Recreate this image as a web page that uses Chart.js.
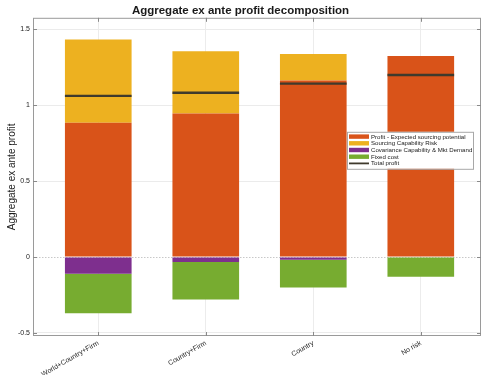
<!DOCTYPE html>
<html><head><meta charset="utf-8">
<script src="https://cdn.jsdelivr.net/npm/chart.js@4/dist/chart.umd.min.js"></script>
<style>html,body{margin:0;padding:0;background:#fff;}#wrap{width:482px;height:375px;position:relative}</style>
</head><body><div id="wrap"><canvas id="c" width="482" height="375"></canvas></div>
<script>
const categories = ['World+Country+Firm', 'Country+Firm', 'Country', 'No risk'];
const categoryX = [1, 2, 3, 4];
const profitPotential = [0.886, 0.947, 1.163, 1.325];
const capabilityRisk = [0.548, 0.410, 0.175, 0];
const covariance = [-0.110, -0.033, -0.017, 0];
const fixedCost = [-0.260, -0.247, -0.183, -0.130];
const totalProfit = [1.062, 1.083, 1.143, 1.200];
const yTicks = [-0.5, 0, 0.5, 1, 1.5];
const seriesNames = ['Profit - Expected sourcing potential', 'Sourcing Capability Risk', 'Covariance Capability & Mkt Demand', 'Fixed cost', 'Total profit'];

const FONT = '"Liberation Sans", Arial, Helvetica, sans-serif';
const LINE_HALF = 0.0075; // half thickness of the total-profit marker, in axis units (style)
const pts = arr => arr.map((v, i) => ({x: categoryX[i], y: v}));

const barDs = (label, data, color) => ({
  type: 'bar', label, data: pts(data), backgroundColor: color,
  borderWidth: 0, barPercentage: 0.62, categoryPercentage: 1, stack: 'bars'
});

const frame = {
  id: 'frame',
  afterDraw(chart) {
    const {ctx, chartArea: a} = chart;
    const xs = chart.scales.x, ys = chart.scales.y;
    ctx.save();
    ctx.strokeStyle = '#9a9a9a';
    ctx.lineWidth = 1;
    ctx.strokeRect(a.left + 0.5, a.top + 0.5, a.right - a.left - 1, a.bottom - a.top - 1);
    ctx.strokeStyle = '#8a8a8a';
    ctx.beginPath();
    categoryX.forEach(v => {
      const x = Math.round(xs.getPixelForValue(v)) + 0.5;
      ctx.moveTo(x, a.bottom); ctx.lineTo(x, a.bottom - 4);
      ctx.moveTo(x, a.top); ctx.lineTo(x, a.top + 4);
    });
    yTicks.forEach(v => {
      const y = Math.round(ys.getPixelForValue(v)) + 0.5;
      ctx.moveTo(a.left, y); ctx.lineTo(a.left + 4, y);
      ctx.moveTo(a.right, y); ctx.lineTo(a.right - 4, y);
    });
    ctx.stroke();
    ctx.restore();
  }
};

const legendBox = {
  id: 'legendBox',
  afterDatasetsDraw(chart) {
    const {ctx, chartArea: a} = chart;
    const x0 = a.right - 134, y0 = a.top + 114, w = 126, h = 37;
    ctx.save();
    ctx.fillStyle = '#ffffff';
    ctx.fillRect(x0, y0, w, h);
    ctx.strokeStyle = '#a8a8a8';
    ctx.lineWidth = 1;
    ctx.strokeRect(x0 + 0.5, y0 + 0.5, w, h);
    ctx.font = '6.1px ' + FONT;
    ctx.textBaseline = 'middle';
    const items = chart.data.datasets.slice().sort((p, q) => p.legendIndex - q.legendIndex);
    items.forEach((ds, i) => {
      const y = y0 + 4.8 + i * 6.7;
      if (ds.legendIndex < 4) {
        ctx.fillStyle = ds.backgroundColor;
        ctx.fillRect(x0 + 2, y - 2.2, 20, 4.4);
      } else {
        ctx.strokeStyle = ds.backgroundColor;
        ctx.lineWidth = 1.8;
        ctx.beginPath(); ctx.moveTo(x0 + 2, y); ctx.lineTo(x0 + 22, y); ctx.stroke();
      }
      ctx.fillStyle = '#1a1a1a';
      ctx.fillText(ds.label, x0 + 24, y + 0.3);
    });
    ctx.restore();
  }
};

const datasets = [
  Object.assign(barDs(seriesNames[0], profitPotential, '#D95319'), {legendIndex: 0}),
  Object.assign(barDs(seriesNames[1], capabilityRisk, '#EDB120'), {legendIndex: 1}),
  Object.assign(barDs(seriesNames[2], covariance, '#7E2F8E'), {legendIndex: 2}),
  Object.assign(barDs(seriesNames[3], fixedCost, '#77AC30'), {legendIndex: 3}),
  {
    type: 'bar', label: seriesNames[4], legendIndex: 4,
    data: totalProfit.map((v, i) => ({x: categoryX[i], y: [v - LINE_HALF, v + LINE_HALF]})),
    stack: 'total', grouped: false, order: -1,
    backgroundColor: '#3f3a2c', borderWidth: 0,
    barPercentage: 0.62, categoryPercentage: 1
  }
];

new Chart(document.getElementById('c'), {
  data: {datasets},
  options: {
    responsive: false, animation: false, devicePixelRatio: 1,
    layout: {padding: {left: 0, right: 1, top: 0, bottom: 0}},
    plugins: {
      legend: {display: false}, tooltip: {enabled: false},
      title: {display: true, text: 'Aggregate ex ante profit decomposition', color: '#1a1a1a',
        font: {family: FONT, size: 11.5, weight: 'bold', lineHeight: 1.2}, padding: {top: 4, bottom: 0}}
    },
    scales: {
      x: {
        type: 'linear', min: 0.393, max: 4.56, stacked: true, offset: false,
        afterBuildTicks: s => { s.ticks = categoryX.map(v => ({value: v})); },
        afterFit: s => { s.height = 39; },
        grid: {color: '#ececec', drawTicks: false, offset: false},
        border: {display: false},
        ticks: {autoSkip: false, minRotation: 30, maxRotation: 30, padding: 3, color: '#222',
          font: {family: FONT, size: 7}, callback: v => categories[categoryX.indexOf(v)]}
      },
      y: {
        min: -0.52, max: 1.577, stacked: true,
        afterBuildTicks: s => { s.ticks = yTicks.map(v => ({value: v})); },
        afterFit: s => { s.width = 33; },
        grid: {color: c => (c.tick && c.tick.value === 0) ? '#c8c8c8' : '#ebebeb', drawTicks: false},
        border: {display: false, dash: c => (c.tick && c.tick.value === 0) ? [1.5, 1.5] : []},
        ticks: {padding: 3, color: '#222', font: {family: FONT, size: 7}, callback: v => String(v)},
        title: {display: true, text: 'Aggregate ex ante profit', color: '#1a1a1a',
          font: {family: FONT, size: 10}, padding: {top: 6.5, bottom: 0}}
      }
    }
  },
  plugins: [frame, legendBox]
});
</script></body></html>
